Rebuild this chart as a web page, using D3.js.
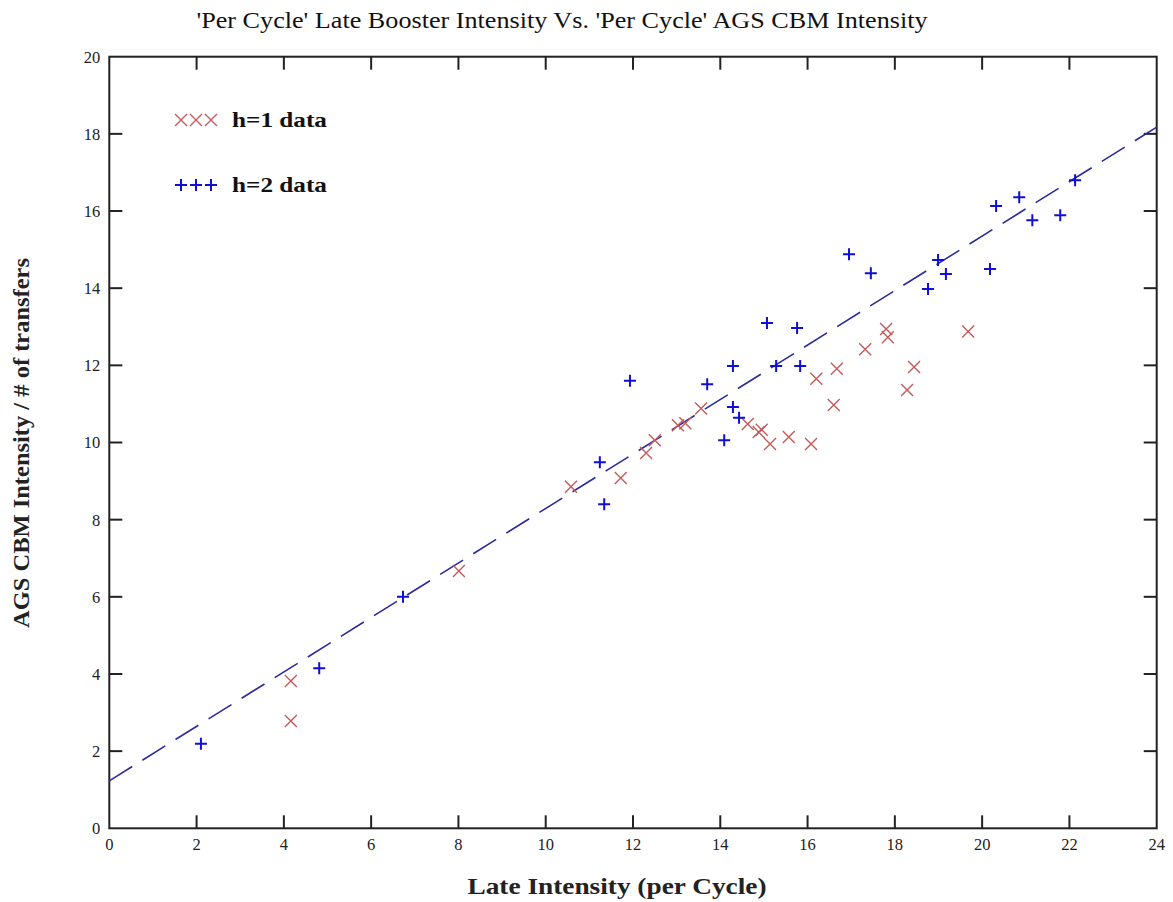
<!DOCTYPE html>
<html>
<head>
<meta charset="utf-8">
<script src="https://cdn.jsdelivr.net/npm/d3@7"></script>
<style>
  body { margin: 0; background: #fff; }
  text { font-family: "Liberation Serif", "Times New Roman", serif; }
</style>
</head>
<body>
<div id="chart"></div>
<script>
// h=1 data (red crosses)
var h1X = [4.16, 4.16, 8.01, 10.58, 11.72, 12.3, 12.5, 13.03, 13.2, 13.56, 14.63, 14.88, 14.95, 15.14,
           15.57, 16.08, 16.2, 16.6, 16.67, 17.32, 17.8, 17.84, 18.28, 18.44, 19.68];
var h1Y = [3.82, 2.78, 6.67, 8.85, 9.08, 9.73, 10.06, 10.45, 10.5, 10.88, 10.48, 10.27, 10.33, 9.96,
           10.14, 9.96, 11.65, 10.97, 11.91, 12.42, 12.94, 12.73, 11.36, 11.96, 12.88];
// h=2 data (blue plus)
var h2X = [2.1, 4.81, 6.73, 11.24, 11.34, 11.93, 13.7, 14.29, 14.09, 14.29, 14.43, 15.07, 15.28,
           15.76, 15.83, 16.95, 17.45, 18.76, 18.99, 19.17, 20.18, 20.32, 20.85, 21.15, 21.79, 22.13];
var h2Y = [2.19, 4.15, 6.0, 9.49, 8.4, 11.6, 11.51, 11.98, 10.06, 10.92, 10.64, 13.1, 11.98,
           12.97, 11.98, 14.88, 14.39, 13.98, 14.73, 14.37, 14.5, 16.13, 16.36, 15.76, 15.89, 16.8];
// dashed fit line
var fitIntercept = 1.23;
var fitSlope = 0.706;
var xTicks = [0, 2, 4, 6, 8, 10, 12, 14, 16, 18, 20, 22, 24];
var yTicks = [0, 2, 4, 6, 8, 10, 12, 14, 16, 18, 20];

var W = 1173, H = 902;
var margin = {top: 56.7, right: 16.3, bottom: 73.7, left: 109.3};
var width = W - margin.left - margin.right,
    height = H - margin.top - margin.bottom;

var svg = d3.select("#chart").append("svg")
    .attr("width", W)
    .attr("height", H);

var g = svg.append("g").attr("transform", "translate(" + margin.left + "," + margin.top + ")");

var xScale = d3.scaleLinear().domain([0, 24]).range([0, width]);
var yScale = d3.scaleLinear().domain([0, 20]).range([height, 0]);

// title
svg.append("text")
    .attr("x", 562).attr("y", 28)
    .attr("text-anchor", "middle")
    .attr("font-size", "23px")
    .attr("textLength", 731)
    .attr("lengthAdjust", "spacingAndGlyphs")
    .attr("fill", "#111")
    .text("'Per Cycle' Late Booster Intensity Vs. 'Per Cycle' AGS CBM Intensity");

// frame
g.append("rect")
    .attr("x", 0).attr("y", 0)
    .attr("width", width).attr("height", height)
    .attr("fill", "none")
    .attr("stroke", "#222")
    .attr("stroke-width", 2);

var tickLen = 13;
var innerX = xTicks.filter(function(d) { return d > 0 && d < 24; });
var innerY = yTicks.filter(function(d) { return d > 0 && d < 20; });

// tick marks, inward on all four sides
g.selectAll(".xtb").data(innerX).enter().append("line")
    .attr("x1", d => xScale(d)).attr("x2", d => xScale(d))
    .attr("y1", height).attr("y2", height - tickLen)
    .attr("stroke", "#222").attr("stroke-width", 2);
g.selectAll(".xtt").data(innerX).enter().append("line")
    .attr("x1", d => xScale(d)).attr("x2", d => xScale(d))
    .attr("y1", 0).attr("y2", tickLen)
    .attr("stroke", "#222").attr("stroke-width", 2);
g.selectAll(".ytl").data(innerY).enter().append("line")
    .attr("x1", 0).attr("x2", tickLen)
    .attr("y1", d => yScale(d)).attr("y2", d => yScale(d))
    .attr("stroke", "#222").attr("stroke-width", 2);
g.selectAll(".ytr").data(innerY).enter().append("line")
    .attr("x1", width).attr("x2", width - tickLen)
    .attr("y1", d => yScale(d)).attr("y2", d => yScale(d))
    .attr("stroke", "#222").attr("stroke-width", 2);

// tick labels
g.selectAll(".xl").data(xTicks).enter().append("text")
    .attr("x", d => xScale(d))
    .attr("y", height + 22)
    .attr("text-anchor", "middle")
    .attr("font-size", "16.5px")
    .attr("fill", "#222")
    .text(d => d);
g.selectAll(".yl").data(yTicks).enter().append("text")
    .attr("x", -9)
    .attr("y", d => yScale(d) + 6)
    .attr("text-anchor", "end")
    .attr("font-size", "16.5px")
    .attr("fill", "#222")
    .text(d => d);

// axis titles
svg.append("text")
    .attr("x", 617).attr("y", 894)
    .attr("text-anchor", "middle")
    .attr("font-size", "23px")
    .attr("font-weight", "bold")
    .attr("textLength", 299)
    .attr("lengthAdjust", "spacingAndGlyphs")
    .attr("fill", "#222")
    .text("Late Intensity (per Cycle)");
svg.append("text")
    .attr("transform", "translate(29,443) rotate(-90)")
    .attr("text-anchor", "middle")
    .attr("font-size", "23px")
    .attr("font-weight", "bold")
    .attr("textLength", 370)
    .attr("lengthAdjust", "spacingAndGlyphs")
    .attr("fill", "#222")
    .text("AGS CBM Intensity / # of transfers");

// fit line
g.append("line")
    .attr("x1", xScale(0)).attr("y1", yScale(fitIntercept))
    .attr("x2", xScale(24)).attr("y2", yScale(fitIntercept + fitSlope * 24))
    .attr("stroke", "#2b2b9c")
    .attr("stroke-width", 1.6)
    .attr("stroke-dasharray", "27,12");

var red = "#c65a5a", blue = "#1010d0";
var s = 6;

function drawCross(sel, cx, cy) {
    sel.append("path")
        .attr("d", "M" + (cx - s) + "," + (cy - s) + "L" + (cx + s) + "," + (cy + s) +
                   "M" + (cx - s) + "," + (cy + s) + "L" + (cx + s) + "," + (cy - s))
        .attr("stroke", red).attr("stroke-width", 1.4).attr("fill", "none");
}
function drawPlus(sel, cx, cy) {
    sel.append("path")
        .attr("d", "M" + (cx - s) + "," + cy + "L" + (cx + s) + "," + cy +
                   "M" + cx + "," + (cy - s) + "L" + cx + "," + (cy + s))
        .attr("stroke", blue).attr("stroke-width", 2).attr("fill", "none");
}

var pts = g.append("g");
h1X.forEach(function(x, i) { drawCross(pts, xScale(x), yScale(h1Y[i])); });
h2X.forEach(function(x, i) { drawPlus(pts, xScale(x), yScale(h2Y[i])); });

// legend
var leg = svg.append("g");
[181, 196, 211].forEach(function(x) { drawCross(leg, x, 120); });
[181, 196, 211].forEach(function(x) { drawPlus(leg, x, 185); });
leg.append("text").attr("x", 232).attr("y", 127)
    .attr("font-size", "22px").attr("font-weight", "bold").attr("fill", "#111")
    .attr("textLength", 95).attr("lengthAdjust", "spacingAndGlyphs")
    .text("h=1 data");
leg.append("text").attr("x", 232).attr("y", 192)
    .attr("font-size", "22px").attr("font-weight", "bold").attr("fill", "#111")
    .attr("textLength", 95).attr("lengthAdjust", "spacingAndGlyphs")
    .text("h=2 data");
</script>
</body>
</html>
